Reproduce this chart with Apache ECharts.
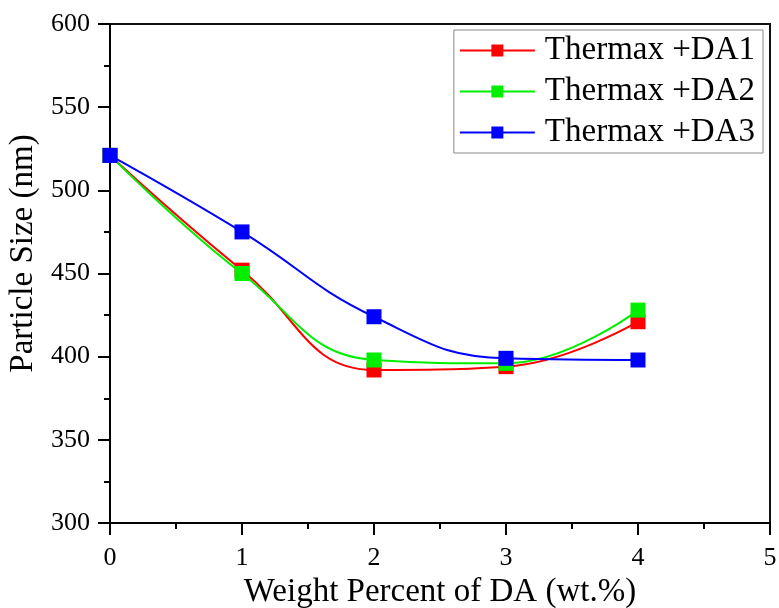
<!DOCTYPE html>
<html><head><meta charset="utf-8">
<script src="https://cdn.jsdelivr.net/npm/echarts@6/dist/echarts.min.js"></script>
<style>html,body{margin:0;padding:0;background:#fff;font-family:"Liberation Serif",serif}#c{width:779px;height:608px}</style>
</head><body><div id="c"></div>
<script>
const xValues = [0, 1, 2, 3, 4];
const da1 = [521, 452, 392, 394, 421];
const da2 = [521, 450, 398, 396, 428];
const da3 = [521, 475, 424, 399, 398];
const seriesNames = ['Thermax +DA1', 'Thermax +DA2', 'Thermax +DA3'];
const colors = ['#ff0000', '#00ee00', '#0000ff'];
const xTitle = 'Weight Percent of DA (wt.%)';
const yTitle = 'Particle Size (nm)';

const font = 'Liberation Serif';
const mk = (vals, i) => ({
  name: seriesNames[i], type: 'line', smooth: 0.45,
  data: xValues.map((x, k) => [x, vals[k]]),
  symbol: 'rect', symbolSize: 15, showSymbol: true,
  itemStyle: { color: colors[i] }, lineStyle: { color: colors[i], width: 2 },
  z: 3 + i
});
const tickStyle = { color: '#000', width: 2 };
const option = {
  animation: false,
  textStyle: { fontFamily: font },
  grid: { left: 110, top: 24, right: 9, bottom: 85, containLabel: false, outerBoundsMode: 'none',
          show: true, borderColor: '#111', borderWidth: 2 },
  legend: {
    right: 16, top: 30, orient: 'vertical',
    itemWidth: 75, itemHeight: 15, itemGap: 8,
    padding: [4, 8, 4, 5],
    borderColor: '#888', borderWidth: 1,
    textStyle: { fontFamily: font, fontSize: 33, color: '#000', padding: [0, 0, 0, 5] },
    data: seriesNames
  },
  xAxis: {
    type: 'value', min: 0, max: 5, interval: 1,
    name: xTitle, nameLocation: 'middle', nameGap: 31,
    nameTextStyle: { fontFamily: font, fontSize: 33, color: '#000' },
    axisLine: { lineStyle: tickStyle },
    axisTick: { length: 12, lineStyle: tickStyle },
    minorTick: { show: true, splitNumber: 2, length: 6, lineStyle: tickStyle },
    axisLabel: { fontFamily: font, fontSize: 26, color: '#000', margin: 22 },
    splitLine: { show: false }
  },
  yAxis: {
    type: 'value', min: 300, max: 600, interval: 50,
    name: yTitle, nameLocation: 'middle', nameGap: 63,
    nameTextStyle: { fontFamily: font, fontSize: 33, color: '#000', padding: [0, 0, 0, 40] },
    axisLine: { show: true, lineStyle: tickStyle },
    axisTick: { show: true, length: 12, lineStyle: tickStyle },
    minorTick: { show: true, splitNumber: 2, length: 6, lineStyle: tickStyle },
    axisLabel: { fontFamily: font, fontSize: 26, color: '#000', margin: 20 },
    splitLine: { show: false }
  },
  series: [mk(da1, 0), mk(da2, 1), mk(da3, 2)]
};
const chart = echarts.init(document.getElementById('c'));
chart.setOption(option);
if (document.fonts && document.fonts.load) {
  Promise.all([
    document.fonts.load('26px "Liberation Serif"'),
    document.fonts.load('33px "Liberation Serif"')
  ]).then(() => { chart.clear(); chart.setOption(option); }).catch(() => {});
}
</script></body></html>
